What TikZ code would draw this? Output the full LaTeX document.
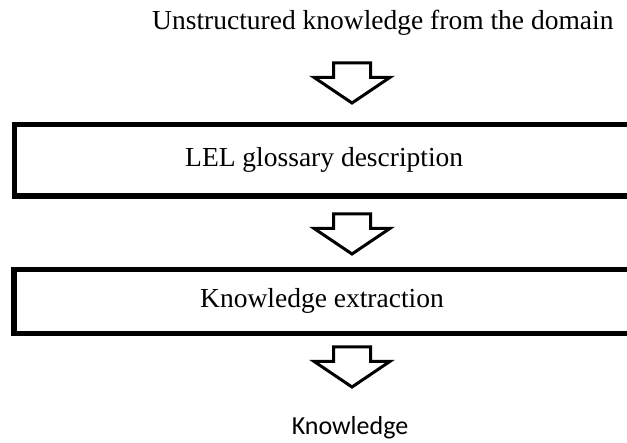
\documentclass[tikz,border=0pt]{standalone}
\usepackage{fontspec}
\setmainfont{Liberation Serif}
\newfontfamily\calfont{Carlito}
\usetikzlibrary{shapes.arrows}

\begin{document}
\begin{tikzpicture}[x=1pt,y=-1pt,
		stepbox/.style={draw,line width=5.5pt,outer sep=0pt,inner sep=0pt,anchor=north west},
		downarrow/.style={draw,line width=3pt,single arrow,shape border rotate=270,
			minimum height=40pt,minimum width=73pt,single arrow head extend=19.5pt,
			single arrow tip angle=112,inner xsep=17pt,inner ysep=0pt,outer sep=0pt,anchor=tail},
		label/.style={inner sep=0pt,anchor=base west,font=\fontsize{27.5}{33}\selectfont}]
			\useasboundingbox (0,0) rectangle (627,443);
			\clip (0,0) rectangle (627,443);
			\node[label] (src) at (152,30) {Unstructured knowledge from the domain};
			\node[downarrow] (a1) at (352,63) {};
			\node[stepbox,minimum width=680pt,minimum height=71.5pt] (lel) at (14.5,124.5) {};
			\node[label] (leltext) at (185,167) {LEL glossary description};
			\node[downarrow] (a2) at (352,214) {};
			\node[stepbox,minimum width=680pt,minimum height=64pt] (ext) at (14,269.5) {};
			\node[label] (exttext) at (200,308) {Knowledge extraction};
			\node[downarrow] (a3) at (352,347) {};
			\node[inner sep=0pt,anchor=base,font=\calfont\fontsize{26}{31}\selectfont] (out) at (350,435) {Knowledge};
		\end{tikzpicture}
\end{document}
